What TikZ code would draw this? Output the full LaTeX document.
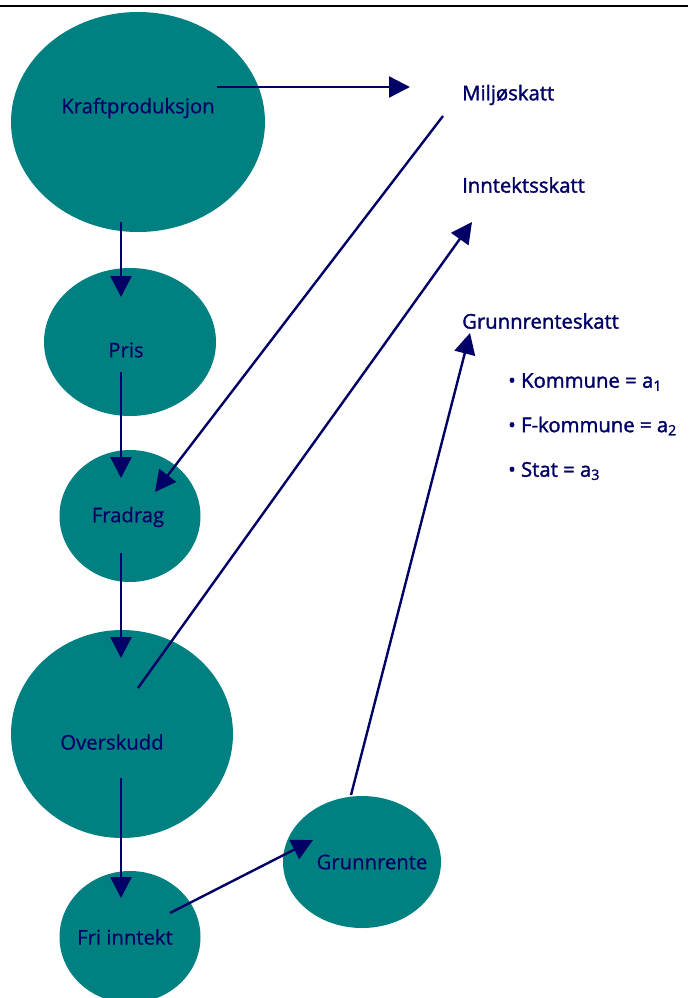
\documentclass[tikz,border=0pt]{standalone}
\usepackage{fontspec}
\setmainfont{Open Sans}
\newfontfamily\labelfont[FakeBold=0.5]{Open Sans}
\newfontfamily\taxfont[FakeBold=1.6]{Open Sans}
\usetikzlibrary{shapes.geometric,arrows.meta}
\definecolor{teal}{RGB}{0,128,128}
\definecolor{navy}{RGB}{0,0,102}
\begin{document}
\begin{tikzpicture}[x=1pt,y=-1pt]
        \tikzstyle{blob}  = [ellipse, fill=teal, draw=none, inner sep=0pt]
        \tikzstyle{word}  = [text=navy, inner sep=0pt, font=\labelfont\fontsize{20.3}{22}\selectfont]
        \tikzstyle{tax}   = [word, anchor=west, font=\taxfont\fontsize{20.3}{22}\selectfont]
        \tikzstyle{arr}   = [draw=navy, line width=2.4pt, -{Triangle[length=21pt,width=21pt]}]
                \useasboundingbox (0,0) rectangle (688,998);
                \draw [line width=2.5pt] (0,6) -- (688,6);

                % ellipses
                \node [blob, minimum width=254pt, minimum height=220pt](kraft) at (138,122) {};
                \node [blob, minimum width=172pt, minimum height=148pt](pris) at (130,342) {};
                \node [blob, minimum width=141pt, minimum height=132pt](fradrag) at (130,516) {};
                \node [blob, minimum width=222pt, minimum height=208pt](overskudd) at (122,734) {};
                \node [blob, minimum width=141pt, minimum height=132pt](fri) at (130,937) {};
                \node [blob, minimum width=158pt, minimum height=132pt](grunnrente) at (362,862) {};

                \node [word](kraftT) at (138,108) {Kraftproduksjon};
                \node [word](prisT) at (126,350) {Pris};
                \node [word](fradragT) at (128,517) {Fradrag};
                \node [word](overskuddT) at (112,742) {Overskudd};
                \node [word](friT) at (125,937) {Fri inntekt};
                \node [word](grunnrenteT) at (372,862) {Grunnrente};

                % taxes
                \node [tax](milj) at (462,95) {Miljøskatt};
                \node [tax](inntekt) at (462,185) {Inntektsskatt};
                \node [tax](grs) at (462,321) {Grunnrenteskatt};
                \foreach \t/\y [count=\i] in {Kommune/382, F-kommune/426, Stat/471}
                {
                        \node [tax](b\i) at (508,\y) {•\ \t\ = a\textsubscript{\i}};
                }

                % arrow ends
                \coordinate (k1) at (217,87);   \coordinate (m1) at (410,87);
                \coordinate (k2) at (121,222);  \coordinate (p1) at (121,297);
                \coordinate (p2) at (121,372);  \coordinate (f1) at (121,478);
                \coordinate (m2) at (443,116);  \coordinate (f2) at (155,492);
                \coordinate (f3) at (121,553);  \coordinate (o1) at (121,658);
                \coordinate (o2) at (138,688);  \coordinate (i1) at (472,222);
                \coordinate (o3) at (121,778);  \coordinate (r1) at (121,898);
                \coordinate (r2) at (170,913);  \coordinate (g1) at (313,840);
                \coordinate (g2) at (351,795);  \coordinate (s1) at (470,333);

                \draw [arr] (k1) -- (m1);
                \draw [arr] (k2) -- (p1);
                \draw [arr] (p2) -- (f1);
                \draw [arr] (m2) -- (f2);
                \draw [arr] (f3) -- (o1);
                \draw [arr] (o2) -- (i1);
                \draw [arr] (o3) -- (r1);
                \draw [arr] (r2) -- (g1);
                \draw [arr] (g2) -- (s1);
\end{tikzpicture}
\end{document}
